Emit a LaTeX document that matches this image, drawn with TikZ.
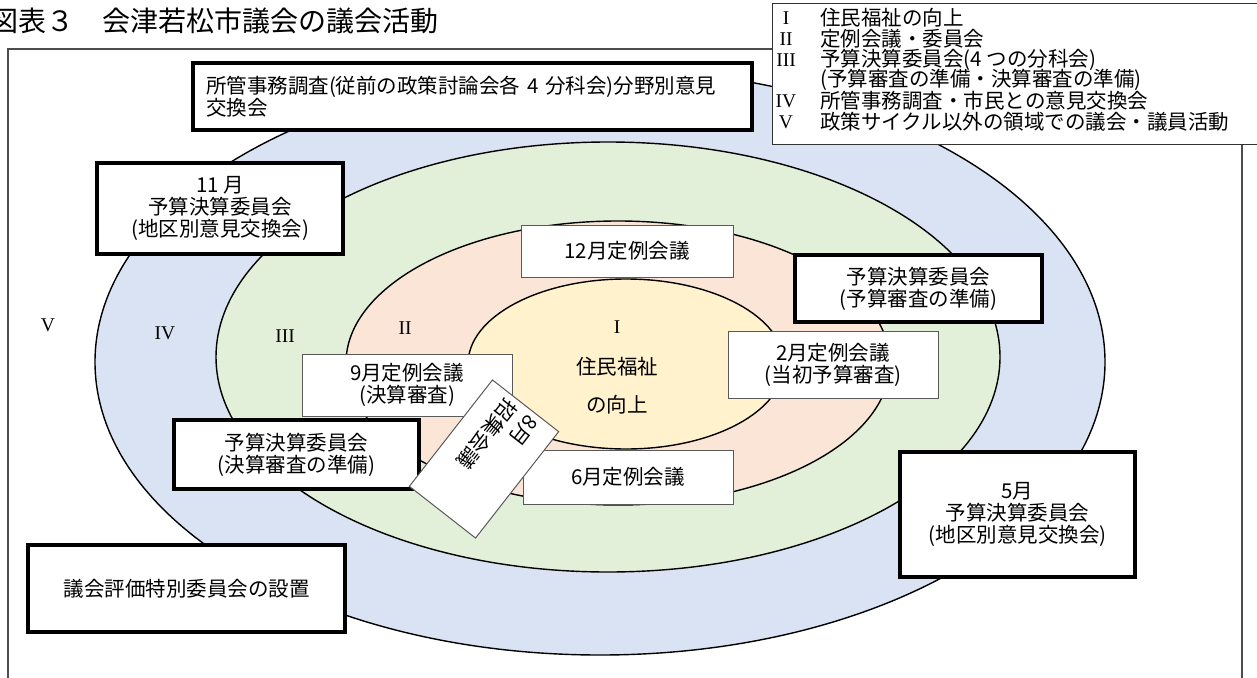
\documentclass[tikz,border=0pt]{standalone}
\usepackage{fontspec}
\setmainfont{Noto Sans CJK JP}
\newfontfamily\romanum{Liberation Serif}
\usepackage{tikz}

\definecolor{ringblue}{HTML}{DAE3F3}
\definecolor{ringgreen}{HTML}{E2F0D9}
\definecolor{ringpeach}{HTML}{FBE5D6}
\definecolor{ringyellow}{HTML}{FFF2CC}

\newcommand{\boxfont}{\fontsize{20.5}{22}\selectfont}

\tikzset{
	ring/.style={draw=black, line width=1.4pt},
	thinbox/.style={draw=black!65, line width=1pt, fill=white, inner sep=0pt, align=center, font=\boxfont},
	thickbox/.style={draw=black, line width=4pt, fill=white, inner sep=0pt, align=center, font=\boxfont},
	numlabel/.style={inner sep=0pt, font=\romanum\fontsize{19.5}{21}\selectfont},
	legtext/.style={anchor=west, inner sep=0pt, font=\boxfont}
}

\begin{document}
\begin{tikzpicture}[x=1pt,y=-1pt]
		\useasboundingbox (0,0) rectangle (1257,677);
		\node [anchor=west, inner sep=0pt, font=\fontsize{28}{30}\selectfont] (title) at (-10,21) {図表３　会津若松市議会の議会活動};
		% outer frame, open at the bottom
		\draw [black!70, line width=1.2pt] (8,680)--(8,49)--(1242,49)--(1242,680);
		% the four rings
		\filldraw [ring, fill=ringblue] (600,362) ellipse [x radius=505, y radius=293];
		\filldraw [ring, fill=ringgreen] (608,357) ellipse [x radius=392, y radius=215];
		\filldraw [ring, fill=ringpeach] (618,363) ellipse [x radius=272, y radius=142];
		\filldraw [ring, fill=ringyellow] (626,364) ellipse [x radius=158, y radius=85];
		\node [numlabel] (rV) at (48,325) {V};
		\node [numlabel] (rIV) at (165,333) {IV};
		\node [numlabel] (rIII) at (285,336) {III};
		\node [numlabel] (rII) at (405,328) {II};
		\node [numlabel] (rI) at (617,327) {I};
		\node [font=\boxfont, inner sep=0pt] (welfare) at (617,367) {住民福祉};
		\node [font=\boxfont, inner sep=0pt] (welfare2) at (617,405) {の向上};
		% legend
		\draw [black!80, line width=1pt, fill=white] (772,4) rectangle (1262,144);
		\foreach \n/\t/\y in {I/住民福祉の向上/18, II/定例会議・委員会/39, III/予算決算委員会(4 つの分科会)/60, /(予算審査の準備・決算審査の準備)/80, IV/所管事務調査・市民との意見交換会/101, V/政策サイクル以外の領域での議会・議員活動/122}{
			\node [numlabel] (leg\y) at (786,\y) {\n};
			\node [legtext] (legt\y) at (820,\y) {\t};
		}
		% boxes
		\node [thickbox, minimum width=559pt, minimum height=67pt, text width=533pt, align=left] (survey) at (472.5,96.5) {所管事務調査(従前の政策討論会各 4 分科会)分野別意見\\交換会};
		\node [thickbox, minimum width=246pt, minimum height=91pt] (nov) at (220,208.5) {11 月\\予算決算委員会\\(地区別意見交換会)};
		\node [thinbox, minimum width=212pt, minimum height=52pt] (dec) at (627,251) {12月定例会議};
		\node [thickbox, minimum width=247pt, minimum height=67pt] (budprep) at (918.5,288.5) {予算決算委員会\\(予算審査の準備)};
		\node [thinbox, minimum width=210pt, minimum height=67pt] (feb) at (833,364.5) {2月定例会議\\(当初予算審査)};
		\node [thinbox, minimum width=210pt, minimum height=62pt] (sep) at (407,385) {9月定例会議\\(決算審査)};
		\node [thickbox, minimum width=245pt, minimum height=69pt] (setprep) at (296.5,454.5) {予算決算委員会\\(決算審査の準備)};
		\node [thinbox, minimum width=210pt, minimum height=54pt] (jun) at (628,477) {6月定例会議};
		\node [thickbox, minimum width=235pt, minimum height=125pt] (may) at (1017.5,514.5) {5月\\予算決算委員会\\(地区別意見交換会)};
		\node [thickbox, minimum width=317pt, minimum height=87pt] (evalc) at (186.5,588.5) {議会評価特別委員会の設置};
		% rotated box
		\node [thinbox, rotate=232, minimum width=135pt, minimum height=84pt, text width=125pt, align=left, font=\fontsize{20.5}{27}\selectfont] (aug) at (484,459) {8月\\招集会議};
	\end{tikzpicture}
\end{document}
